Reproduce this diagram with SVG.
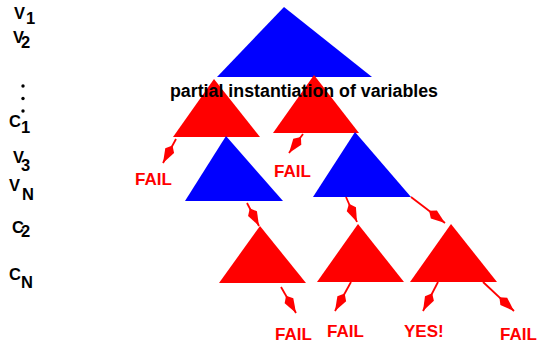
<svg xmlns="http://www.w3.org/2000/svg" width="538" height="342" viewBox="0 0 538 342">
<style>
.blue{fill:#0000ff}
.red{fill:#ff0000}
.lbl{font-family:"Liberation Sans",Arial,sans-serif;font-weight:bold;font-size:16.5px;fill:#000}
.res{font-family:"Liberation Sans",Arial,sans-serif;font-weight:bold;font-size:17px;fill:#ff0000}
.cap{font-family:"Liberation Sans",Arial,sans-serif;font-weight:bold;font-size:17.5px;fill:#000}
.conn{stroke:#ff0000;stroke-width:1.8;fill:none}
</style>
<defs>
<marker id="kite" markerUnits="userSpaceOnUse" viewBox="-21 -6 22 12" markerWidth="22" markerHeight="12" refX="0" refY="0" orient="auto">
<path d="M0,0 L-14,-5 L-20,0 L-14,5 Z" fill="#ff0000"/>
</marker>
</defs>
<g id="labels">
<text class="lbl" x="14" y="19">V</text><text class="lbl" x="26" y="24">1</text>
<text class="lbl" x="13" y="43">V</text><text class="lbl" x="21" y="48">2</text>
<circle cx="23" cy="86" r="1.7" fill="#000"/>
<circle cx="23" cy="98.5" r="1.7" fill="#000"/>
<circle cx="23" cy="111" r="1.7" fill="#000"/>
<text class="lbl" x="9" y="127">C</text><text class="lbl" x="21" y="133">1</text>
<text class="lbl" x="13" y="163">V</text><text class="lbl" x="21" y="171">3</text>
<text class="lbl" x="9" y="191">V</text><text class="lbl" x="22" y="200">N</text>
<text class="lbl" x="12" y="233">C</text><text class="lbl" x="21" y="237">2</text>
<text class="lbl" x="9" y="280">C</text><text class="lbl" x="21" y="288">N</text>
</g>
<g id="root"><polygon class="blue" points="284,7 372,77 217,77"/></g>
<g id="c1"><polygon class="red" points="214,79 260,137 173,137"/></g>
<g id="c2"><polygon class="red" points="314,75 359,133 273,133"/></g>
<g id="v3a"><polygon class="blue" points="226,136 283,201 185,201"/></g>
<g id="v3b"><polygon class="blue" points="355,132 411,197 313,197"/></g>
<g id="t1"><polygon class="red" points="260,226 306,283 219,283"/></g>
<g id="t2"><polygon class="red" points="358,224 404,282 317,282"/></g>
<g id="t3"><polygon class="red" points="451,224 497,282 410,282"/></g>
<g id="connectors">
<line class="conn" x1="176" y1="139" x2="163" y2="163" marker-end="url(#kite)"/>
<line class="conn" x1="303" y1="134" x2="289" y2="153" marker-end="url(#kite)"/>
<line class="conn" x1="247" y1="203" x2="259" y2="226" marker-end="url(#kite)"/>
<line class="conn" x1="346" y1="197" x2="357" y2="222" marker-end="url(#kite)"/>
<line class="conn" x1="411" y1="197" x2="445" y2="223" marker-end="url(#kite)"/>
<line class="conn" x1="281" y1="287" x2="296" y2="313" marker-end="url(#kite)"/>
<line class="conn" x1="351" y1="282" x2="335" y2="311" marker-end="url(#kite)"/>
<line class="conn" x1="438" y1="282" x2="423" y2="311" marker-end="url(#kite)"/>
<line class="conn" x1="483" y1="282" x2="514" y2="311" marker-end="url(#kite)"/>
</g>
<g id="caption"><text class="cap" x="170" y="97" textLength="268" lengthAdjust="spacingAndGlyphs">partial instantiation of variables</text></g>
<g id="results">
<text class="res" x="135" y="185">FAIL</text>
<text class="res" x="274" y="177">FAIL</text>
<text class="res" x="275" y="340">FAIL</text>
<text class="res" x="327" y="337">FAIL</text>
<text class="res" x="404" y="337">YES!</text>
<text class="res" x="500" y="340">FAIL</text>
</g>
</svg>
